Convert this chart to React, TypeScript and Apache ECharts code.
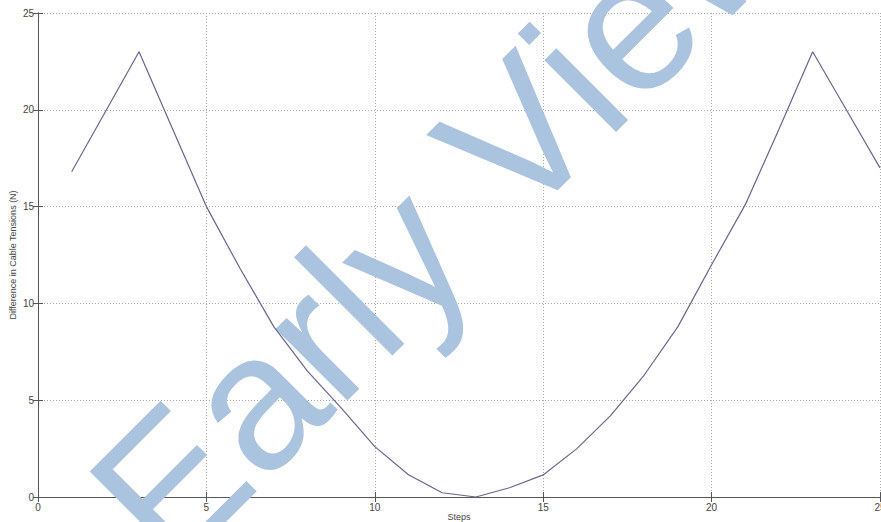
import React, { useEffect, useRef } from "react";
import * as echarts from "echarts";

// Step index and the measured tension difference at each step
const steps: number[] = [1, 2, 3, 4, 5, 6, 7, 8, 9, 10, 11, 12, 13, 14, 15, 16, 17, 18, 19, 20, 21, 22, 23, 24, 25];
const tensionDiff: number[] = [16.8, 19.9, 23.0, 19.0, 15.0, 11.8, 8.8, 6.5, 4.6, 2.6, 1.15, 0.22, 0.0, 0.48, 1.14, 2.5, 4.2, 6.3, 8.8, 12.0, 15.1, 19.0, 23.0, 20.0, 17.0];

const xTitle = "Steps";
const yTitle = "Difference in Cable Tensions (N)";
const watermark = "Early View";

const AXIS = "#555";
const GRID = "#a8a8a8";
const LABEL = "#444";
const FONT = "'Liberation Sans', Arial, Helvetica, sans-serif";

export default function App() {
  const ref = useRef<HTMLDivElement>(null);

  useEffect(() => {
    if (!ref.current) return;
    const chart = echarts.init(ref.current, undefined, { renderer: "svg" });

    const boxAxis = {
      axisLine: { show: true, lineStyle: { color: AXIS, width: 1 } },
      axisTick: { show: true, inside: true, length: 5, lineStyle: { color: AXIS } },
      axisLabel: { show: false },
      splitLine: { show: false },
    };

    chart.setOption({
      animation: false,
      backgroundColor: "#ffffff",
      grid: {
        left: 38,
        right: 1,
        top: 13,
        bottom: 25,
        containLabel: false,
        outerBoundsMode: "none",
      },
      xAxis: [
        {
          type: "value",
          min: 0,
          max: 25,
          interval: 5,
          position: "bottom",
          name: xTitle,
          nameLocation: "middle",
          nameGap: 15,
          nameMoveOverlap: false,
          nameTextStyle: { color: LABEL, fontSize: 9, fontFamily: FONT },
          axisLine: { show: true, lineStyle: { color: AXIS, width: 1 } },
          axisTick: { show: true, inside: true, length: 5, lineStyle: { color: AXIS } },
          axisLabel: { color: LABEL, fontSize: 10, fontFamily: FONT, margin: 5 },
          splitLine: { show: true, lineStyle: { color: GRID, type: [1, 2], width: 1 } },
        },
        { type: "value", min: 0, max: 25, interval: 5, position: "top", ...boxAxis },
      ],
      yAxis: [
        {
          type: "value",
          min: 0,
          max: 25,
          interval: 5,
          position: "left",
          name: yTitle,
          nameLocation: "middle",
          nameGap: 21,
          nameMoveOverlap: false,
          nameTextStyle: { color: LABEL, fontSize: 9, fontFamily: FONT },
          axisLine: { show: true, lineStyle: { color: AXIS, width: 1 } },
          axisTick: { show: true, inside: true, length: 5, lineStyle: { color: AXIS } },
          axisLabel: { color: LABEL, fontSize: 10, fontFamily: FONT, margin: 4 },
          splitLine: { show: true, lineStyle: { color: GRID, type: [1, 2], width: 1 } },
        },
        { type: "value", min: 0, max: 25, interval: 5, position: "right", ...boxAxis },
      ],
      series: [
        {
          type: "line",
          data: steps.map((s, i) => [s, tensionDiff[i]]),
          showSymbol: false,
          symbol: "none",
          lineStyle: { color: "#66668f", width: 1.2 },
          z: 3,
        },
      ],
      graphic: [
        {
          type: "text",
          x: 125,
          y: 529,
          rotation: Math.PI / 4,
          z: 1,
          silent: true,
          style: {
            text: watermark,
            fontSize: 192,
            fontFamily: FONT,
            fill: "#aac3df",
            align: "left",
            verticalAlign: "middle",
          },
        },
      ],
    });

    return () => chart.dispose();
  }, []);

  return (
    <div
      ref={ref}
      style={{ position: "fixed", left: 0, top: 0, width: 881, height: 522 }}
    />
  );
}
